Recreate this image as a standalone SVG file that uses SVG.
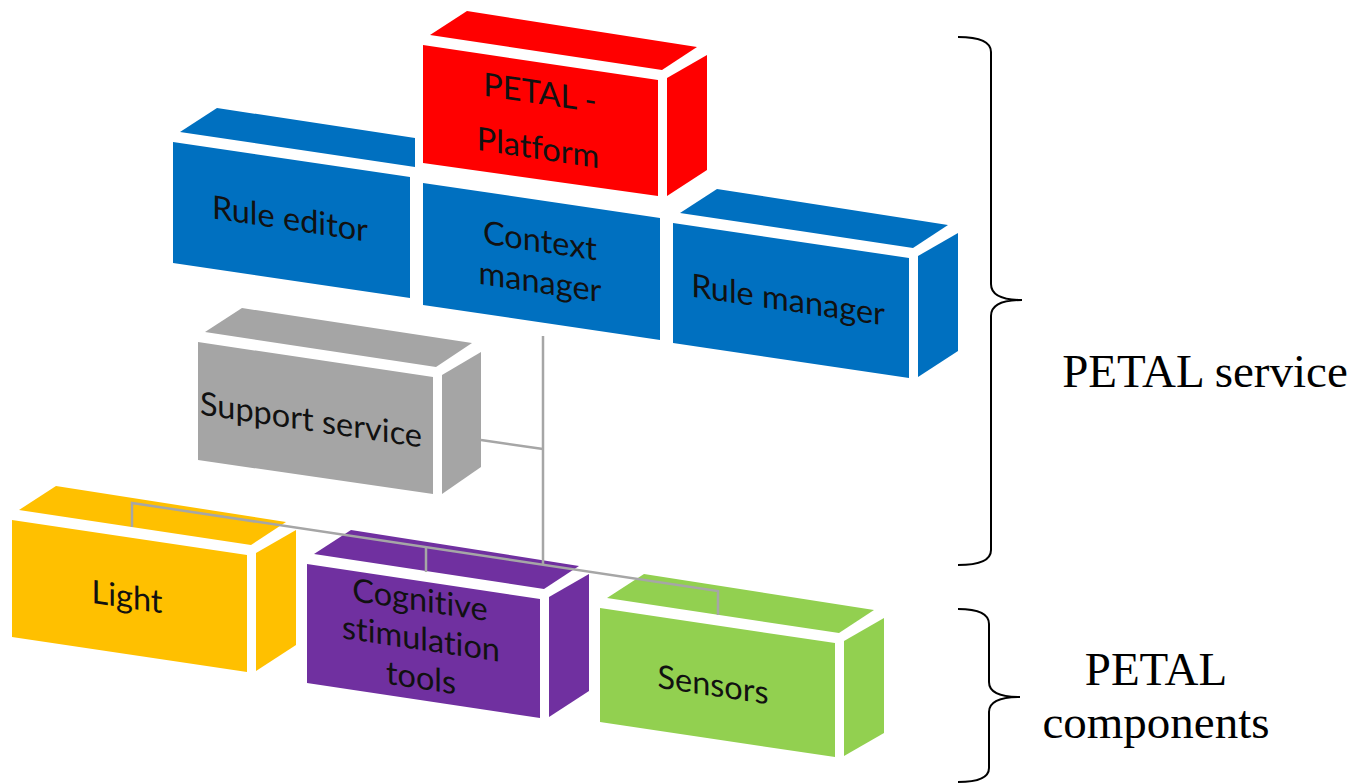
<svg xmlns="http://www.w3.org/2000/svg" width="1369" height="783" viewBox="0 0 1369 783">
  <style>
    .red { fill: #FF0000; }
    .blue { fill: #0070C0; }
    .gray { fill: #A5A5A5; }
    .yellow { fill: #FFC000; }
    .purple { fill: #7030A0; }
    .green { fill: #92D050; }
    .lbl { font-family: Lato, "Open Sans", sans-serif; font-size: 32.5px; fill: #111; text-anchor: middle; font-variant-ligatures: none; }
    .side-lbl { font-family: "Liberation Serif", "Times New Roman", serif; font-size: 47px; fill: #000; text-anchor: middle; }
    .wire { fill: none; stroke: #A6A6A6; stroke-width: 2.5; }
    .brace { fill: none; stroke: #000; stroke-width: 2; }
  </style>
  <rect width="1369" height="783" fill="#fff"/>

  <!-- service layer boxes -->
  <g id="rule-editor">
    <polygon class="blue" points="180,132 217,108 415,138 415,167"/>
    <polygon class="blue" points="173,142 410,177 410,298 173,263"/>
    <text class="lbl" transform="translate(290,230) skewY(8.5)">Rule editor</text>
  </g>

  <g id="context-manager">
    <polygon class="blue" points="423,183 660,218 660,340 423,305"/>
    <text class="lbl" transform="translate(540,252) skewY(8.5)">Context</text>
    <text class="lbl" transform="translate(540,293) skewY(8.5)">manager</text>
  </g>

  <g id="petal-platform">
    <polygon class="red" points="430,35 467,11 697,47 662,70"/>
    <polygon class="red" points="667,78 707,55 707,170 667,196"/>
    <polygon class="red" points="423,45 658,80 658,196 423,163"/>
    <text class="lbl" transform="translate(540,104) skewY(8.5)">PETAL -</text>
    <text class="lbl" transform="translate(538,159) skewY(8.5)">Platform</text>
  </g>

  <g id="rule-manager">
    <polygon class="blue" points="680,213 717,189 948,225 913,248"/>
    <polygon class="blue" points="918,256 958,233 958,351 918,377"/>
    <polygon class="blue" points="673,223 909,258 909,378 673,343"/>
    <text class="lbl" transform="translate(788,311) skewY(8.5)">Rule manager</text>
  </g>

  <g id="support-service">
    <polygon class="gray" points="205,332 242,308 472,343 436,367"/>
    <polygon class="gray" points="442,375 481,352 481,467 442,494"/>
    <polygon class="gray" points="198,342 433,377 433,494 198,460"/>
    <text class="lbl" transform="translate(311,431) skewY(8.5)">Support service</text>
  </g>

  <!-- component layer boxes -->
  <g id="light">
    <polygon class="yellow" points="19,510 56,486 286,522 251,545"/>
    <polygon class="yellow" points="256,553 296,530 296,645 256,671"/>
    <polygon class="yellow" points="12,520 247,555 247,672 12,637"/>
    <text class="lbl" transform="translate(127,608) skewY(8.5)">Light</text>
  </g>

  <g id="cognitive-stimulation-tools">
    <polygon class="purple" points="314,554 351,530 579,566 544,589"/>
    <polygon class="purple" points="549,597 589,574 589,691 549,717"/>
    <polygon class="purple" points="307,564 540,599 540,718 307,683"/>
    <text class="lbl" transform="translate(420,611) skewY(8.5)">Cognitive</text>
    <text class="lbl" transform="translate(421,650) skewY(8.5)">stimulation</text>
    <text class="lbl" transform="translate(421,689) skewY(8.5)">tools</text>
  </g>

  <g id="sensors">
    <polygon class="green" points="607,598 644,574 874,610 839,633"/>
    <polygon class="green" points="844,641 884,618 884,733 844,756"/>
    <polygon class="green" points="600,608 835,643 835,757 600,722"/>
    <text class="lbl" transform="translate(713,696) skewY(8.5)">Sensors</text>
  </g>

  <!-- connectors -->
  <g id="connectors">
    <line class="wire" x1="543" y1="336" x2="543" y2="565"/>
    <line class="wire" x1="481" y1="440" x2="543" y2="449"/>
    <polyline class="wire" points="132,527 132,503 718,591 718,615"/>
    <line class="wire" x1="426" y1="547" x2="426" y2="572"/>
  </g>

  <!-- grouping braces and captions -->
  <g id="service-brace">
    <path class="brace" d="M958,37 Q991,37 991,52 L991,284 Q991,300 1022,300 Q991,300 991,316 L991,550 Q991,565 958,565"/>
    <text class="side-lbl" x="1205" y="387">PETAL service</text>
  </g>

  <g id="components-brace">
    <path class="brace" d="M958,609 Q989,609 989,624 L989,682 Q989,697 1020,697 Q989,697 989,712 L989,768 Q989,782 958,782"/>
    <text class="side-lbl" x="1156" y="685">PETAL</text>
    <text class="side-lbl" x="1156" y="738">components</text>
  </g>
</svg>
